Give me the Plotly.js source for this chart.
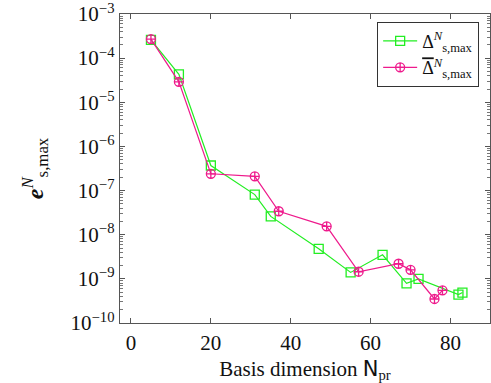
<!DOCTYPE html>
<html>
<head>
<meta charset="utf-8">
<script src="https://cdn.plot.ly/plotly-3.0.1.min.js"></script>
<style>html,body{margin:0;padding:0;background:#fff;}#chart{width:491px;height:383px;}</style>
</head>
<body>
<div id="chart"></div>
<script>
const deltaN = [5, 12, 20, 31, 35, 47, 55, 63, 69, 72, 82, 83];
const deltaVals = [2.6e-4, 4.3e-5, 3.7e-7, 8.1e-8, 2.6e-8, 4.8e-9, 1.4e-9, 3.5e-9, 7.9e-10, 1.0e-9, 4.4e-10, 4.9e-10];
const deltaBarN = [5, 12, 20, 31, 37, 49, 57, 67, 70, 76, 78];
const deltaBarVals = [2.7e-4, 2.9e-5, 2.4e-7, 2.1e-7, 3.4e-8, 1.55e-8, 1.45e-9, 2.2e-9, 1.6e-9, 3.5e-10, 5.5e-10];
const yTickVals = [1e-3, 1e-4, 1e-5, 1e-6, 1e-7, 1e-8, 1e-9, 1e-10];
const yTickText = ['10<sup>−3</sup>', '10<sup>−4</sup>', '10<sup>−5</sup>', '10<sup>−6</sup>', '10<sup>−7</sup>', '10<sup>−8</sup>', '10<sup>−9</sup>', '10<sup>−10</sup>'];
const xTickVals = [0, 20, 40, 60, 80];

const green = '#22ee22';
const pink = '#ee1a8c';
const font = 'Liberation Serif';

const traces = [
  {x: deltaN, y: deltaVals, type: 'scatter', mode: 'lines+markers',
   name: 'Δ<sup><i>N</i></sup><sub>s,max</sub>',
   line: {color: green, width: 1.2},
   marker: {symbol: 'square-open', size: 9, color: green, line: {width: 1.3}}},
  {x: deltaBarN, y: deltaBarVals, type: 'scatter', mode: 'lines+markers',
   name: '<span style="text-decoration:overline">Δ</span><sup><i>N</i></sup><sub>s,max</sub>',
   line: {color: pink, width: 1.2},
   marker: {symbol: 'circle-cross-open', size: 9, color: pink, line: {width: 1.3}}}
];

const layout = {
  width: 491, height: 383,
  margin: {l: 120, r: 1, t: 14, b: 60},
  paper_bgcolor: '#fff', plot_bgcolor: '#fff',
  font: {family: font, size: 21, color: '#111'},
  showlegend: true,
  legend: {x: 0.695, y: 0.975, xanchor: 'left', yanchor: 'top',
    bgcolor: '#fff', bordercolor: '#333', borderwidth: 1,
    font: {family: font, size: 18}, tracegroupgap: 0, itemwidth: 34},
  xaxis: {
    range: [-2.75, 89.9], tickvals: xTickVals, ticks: 'inside', ticklen: 5,
    tickcolor: '#555', linecolor: '#555', linewidth: 1.3, mirror: 'ticks',
    showgrid: false, zeroline: false, showline: true,
    tickfont: {family: font, size: 21}, ticklabeloverflow: 'allow',
    title: {text: 'Basis dimension <span style="font-family:DejaVu Sans">N</span><sub>pr</sub>', font: {family: font, size: 21}, standoff: 10}
  },
  yaxis: {
    type: 'log', range: [-10, -3], tickvals: yTickVals, ticktext: yTickText,
    ticks: 'inside', ticklen: 5, tickcolor: '#555',
    linecolor: '#555', linewidth: 1.3, mirror: 'ticks',
    showgrid: false, zeroline: false, showline: true,
    tickfont: {family: font, size: 21}, ticklabeloverflow: 'allow',
    minor: {ticks: 'inside', ticklen: 3, tickcolor: '#777', dtick: 'D1', showgrid: false},
    title: {text: '<b><i>e</i></b><sup><i>N</i></sup><sub>s,max</sub>', font: {family: font, size: 24}, standoff: 20}
  }
};

Plotly.newPlot('chart', traces, layout, {staticPlot: true, displayModeBar: false});
</script>
</body>
</html>
